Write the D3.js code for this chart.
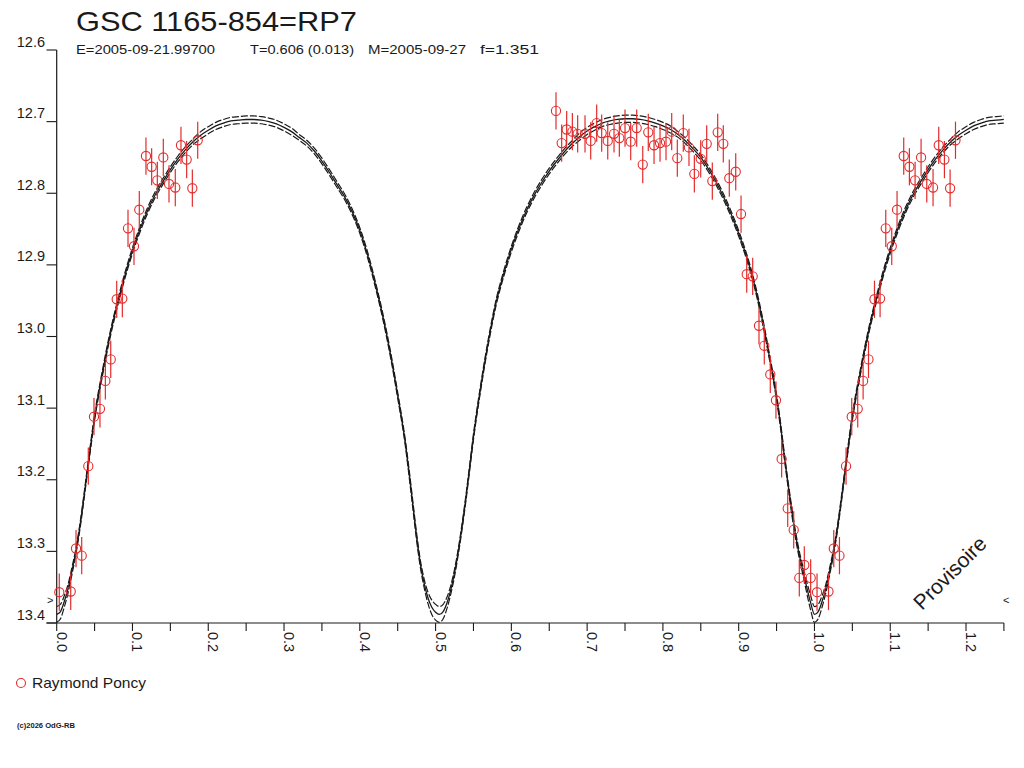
<!DOCTYPE html>
<html><head><meta charset="utf-8">
<script src="https://cdn.jsdelivr.net/npm/d3@7"></script>
<style>
html,body{margin:0;padding:0;background:#fff;}
svg{display:block;font-family:"Liberation Sans",Arial,sans-serif;}
</style>
</head><body>
<svg id="chart" width="1024" height="768"></svg>
<script>
// ---------- texts ----------
const titleText = "GSC 1165-854=RP7";
const subtitleParts = ["E=2005-09-21.99700", "T=0.606 (0.013)", "M=2005-09-27", "f=1.351"];
const observerName = "Raymond Poncy";
const watermarkText = "Provisoire";
const copyrightText = "(c)2026 OdG-RB";

// ---------- axes ----------
const xTickValues = [0,0.05,0.1,0.15,0.2,0.25,0.3,0.35,0.4,0.45,0.5,0.55,0.6,0.65,0.7,0.75,0.8,0.85,0.9,0.95,1.0,1.05,1.1,1.15,1.2,1.25];
const xLabelValues = [0,0.1,0.2,0.3,0.4,0.5,0.6,0.7,0.8,0.9,1.0,1.1,1.2];
const xLabelTexts = ["0.0","0.1","0.2","0.3","0.4","0.5","0.6","0.7","0.8","0.9","1.0","1.1","1.2"];
const yTickValues = [12.6,12.7,12.8,12.9,13.0,13.1,13.2,13.3,13.4];
const yTickTexts = ["12.6","12.7","12.8","12.9","13.0","13.1","13.2","13.3","13.4"];

// ---------- fitted light curve (phase 0..1), three curves ----------
const curvePhase = [0,0.005,0.01,0.015,0.02,0.025,0.03,0.035,0.04,0.045,0.05,0.06,0.07,0.08,0.09,0.10,0.11,0.12,0.13,0.14,0.15,0.16,0.17,0.18,0.19,0.20,0.21,0.22,0.23,0.24,0.25,0.26,0.27,0.28,0.29,0.30,0.31,0.32,0.33,0.34,0.35,0.36,0.37,0.38,0.39,0.40,0.41,0.42,0.43,0.44,0.45,0.46,0.465,0.47,0.475,0.48,0.485,0.49,0.495,0.50,0.505,0.51,0.515,0.52,0.525,0.53,0.535,0.54,0.545,0.55,0.56,0.57,0.58,0.59,0.60,0.61,0.62,0.63,0.64,0.65,0.66,0.67,0.68,0.69,0.70,0.71,0.72,0.73,0.74,0.75,0.76,0.77,0.78,0.79,0.80,0.81,0.82,0.83,0.84,0.85,0.86,0.87,0.88,0.89,0.90,0.91,0.92,0.93,0.94,0.95,0.955,0.96,0.965,0.97,0.975,0.98,0.985,0.99,0.995,1.0];
const curveMid = [13.388,13.384,13.370,13.352,13.328,13.302,13.270,13.232,13.191,13.151,13.113,13.053,13.000,12.955,12.915,12.880,12.850,12.824,12.802,12.784,12.767,12.752,12.739,12.728,12.719,12.712,12.706,12.702,12.699,12.698,12.697,12.697,12.698,12.700,12.703,12.708,12.714,12.722,12.730,12.741,12.755,12.771,12.788,12.805,12.826,12.852,12.885,12.925,12.970,13.022,13.082,13.148,13.190,13.235,13.280,13.318,13.345,13.365,13.378,13.385,13.388,13.384,13.372,13.354,13.330,13.300,13.265,13.226,13.183,
  13.140,13.068,13.005,12.952,12.912,12.878,12.849,12.824,12.803,12.785,12.769,12.755,12.742,12.731,12.721,12.713,12.707,12.702,12.699,12.697,12.696,
  12.696,12.697,12.699,12.702,12.706,12.711,12.718,12.727,12.738,12.750,
  12.766,12.784,12.805,12.829,12.856,12.887,12.924,12.970,13.025,13.085,13.122,13.165,13.205,13.243,13.277,13.305,13.328,13.351,13.372,13.388];
const curveUpper = [13.377,13.374,13.362,13.346,13.323,13.298,13.266,13.228,13.187,13.147,13.109,13.049,12.996,12.951,12.911,12.876,12.846,12.820,12.798,12.780,12.763,12.748,12.735,12.724,12.714,12.707,12.701,12.697,12.694,12.693,12.692,12.692,12.693,12.695,12.698,12.703,12.709,12.718,12.726,12.737,12.751,12.767,12.784,12.801,12.822,12.848,12.881,12.921,12.966,13.018,13.078,13.144,13.185,13.230,13.275,13.313,13.339,13.357,13.368,13.374,13.377,13.374,13.364,13.348,13.325,13.296,13.261,13.222,13.179,
  13.136,13.064,13.001,12.948,12.908,12.874,12.845,12.820,12.799,12.781,12.765,12.751,12.738,12.727,12.716,12.708,12.702,12.697,12.694,12.692,12.691,
  12.691,12.692,12.694,12.697,12.701,12.706,12.714,12.723,12.734,12.746,
  12.762,12.780,12.801,12.825,12.852,12.883,12.920,12.966,13.021,13.081,13.118,13.161,13.201,13.238,13.272,13.300,13.322,13.343,13.362,13.377];
const curveLower = [13.399,13.394,13.378,13.358,13.333,13.306,13.274,13.236,13.195,13.155,13.117,13.057,13.004,12.959,12.919,12.884,12.854,12.828,12.806,12.788,12.771,12.756,12.743,12.732,12.724,12.717,12.711,12.707,12.704,12.703,12.702,12.702,12.703,12.705,12.708,12.713,12.719,12.726,12.734,12.745,12.759,12.775,12.792,12.809,12.830,12.856,12.889,12.929,12.974,13.026,13.086,13.152,13.195,13.240,13.285,13.323,13.351,13.373,13.388,13.396,13.399,13.394,13.380,13.360,13.335,13.304,13.269,13.230,13.187,
  13.144,13.072,13.009,12.956,12.916,12.882,12.853,12.828,12.807,12.789,12.773,12.759,12.746,12.735,12.726,12.718,12.712,12.707,12.704,12.702,12.701,
  12.701,12.702,12.704,12.707,12.711,12.716,12.722,12.731,12.742,12.754,
  12.770,12.788,12.809,12.833,12.860,12.891,12.928,12.974,13.029,13.089,13.126,13.169,13.209,13.248,13.282,13.310,13.334,13.359,13.382,13.399];

// ---------- observations (Raymond Poncy), phase in [0,1) ----------
const obsPhase = [0.0034,0.0185,0.0255,0.0330,0.0417,0.0492,0.0571,0.0642,0.0713,0.0792,0.0866,0.0941,0.1020,0.1090,0.1178,0.1253,0.1328,0.1407,0.1482,0.1565,0.1640,0.1715,0.1790,0.1861,
  0.6589,0.6664,0.6730,0.6805,0.6875,0.6972,0.7047,0.7126,0.7192,0.7272,0.7355,0.7425,0.7500,0.7575,0.7654,0.7734,0.7807,0.7883,0.7962,0.8041,0.8116,0.8190,0.8269,0.8344,0.8415,0.8499,0.8578,0.8652,0.8723,0.8797,0.8876,0.8961,0.9031,
  0.9106,0.9185,0.9268,0.9338,0.9417,0.9492,0.9567,0.9647,0.9726,0.9800,0.9866,0.9950];
const obsMag = [13.357,13.356,13.296,13.306,13.181,13.112,13.101,13.062,13.032,12.948,12.947,12.849,12.874,12.823,12.748,12.763,12.782,12.750,12.787,12.792,12.733,12.753,12.793,12.726,
  12.685,12.730,12.711,12.714,12.717,12.717,12.727,12.702,12.716,12.727,12.717,12.723,12.709,12.728,12.709,12.760,12.715,12.733,12.730,12.728,12.714,12.751,12.716,12.736,12.773,12.752,12.731,12.783,12.715,12.731,12.779,12.770,12.829,
  12.913,12.916,12.985,13.013,13.053,13.089,13.171,13.240,13.270,13.337,13.319,13.337];
const obsErr = [0.026,0.026,0.026,0.026,0.026,0.026,0.026,0.026,0.026,0.026,0.026,0.026,0.026,0.026,0.026,0.026,0.026,0.026,0.026,0.026,0.026,0.026,0.026,0.026,
  0.026,0.026,0.026,0.026,0.026,0.026,0.026,0.026,0.026,0.026,0.026,0.026,0.026,0.026,0.026,0.026,0.026,0.026,0.026,0.026,0.026,0.026,0.026,0.026,0.026,0.026,0.026,0.026,0.026,0.026,0.026,0.026,0.026,
  0.026,0.026,0.026,0.026,0.026,0.026,0.026,0.026,0.026,0.026,0.026,0.026];

// ---------- drawing ----------
const svg = d3.select("#chart");
svg.append("rect").attr("width",1024).attr("height",768).attr("fill","#fff");

const x = d3.scaleLinear().domain([0, 1.25]).range([56.7, 1003.9]);
const y = d3.scaleLinear().domain([12.6, 13.4]).range([50, 623]);
const ink = "#1a1a1a";
const red = "#e42b2b";

svg.append("defs").append("clipPath").attr("id","plotclip")
  .append("rect").attr("x", x(0)).attr("y", y(12.6) - 10).attr("width", x(1.25) - x(0)).attr("height", y(13.4) - y(12.6) + 10);

// title + subtitle
svg.append("text").attr("x",76).attr("y",30.5).attr("font-size",28).attr("fill",ink)
  .attr("textLength",281).attr("lengthAdjust","spacingAndGlyphs").text(titleText);
const subX = [76, 250, 368, 480];
const subW = [139, 104, 98, 59];
subtitleParts.forEach((t,i) => {
  svg.append("text").attr("x",subX[i]).attr("y",53.5).attr("font-size",12.5).attr("fill",ink)
    .attr("textLength",subW[i]).attr("lengthAdjust","spacingAndGlyphs").text(t);
});

// axes lines
svg.append("line").attr("x1",x(0)).attr("x2",x(0)).attr("y1",y(12.6)).attr("y2",y(13.4))
  .attr("stroke",ink).attr("stroke-width",1.2);
svg.append("line").attr("x1",46.5).attr("x2",x(1.25)).attr("y1",y(13.4)).attr("y2",y(13.4))
  .attr("stroke",ink).attr("stroke-width",1.2);

// y ticks + labels
const yg = svg.append("g");
yTickValues.forEach((v,i) => {
  yg.append("line").attr("x1",46.5).attr("x2",x(0)).attr("y1",y(v)).attr("y2",y(v))
    .attr("stroke",ink).attr("stroke-width",1.1);
  yg.append("text").attr("x",45).attr("y",y(v) - 3.5).attr("text-anchor","end")
    .attr("font-size",14.5).attr("fill",ink).text(yTickTexts[i]);
});

// x ticks + labels
const xg = svg.append("g");
xTickValues.forEach(v => {
  xg.append("line").attr("x1",x(v)).attr("x2",x(v)).attr("y1",y(13.4)).attr("y2",y(13.4) + 8)
    .attr("stroke",ink).attr("stroke-width",1.1);
});
xLabelValues.forEach((v,i) => {
  xg.append("text").attr("transform",`translate(${x(v)},632) rotate(90)`)
    .attr("font-size",14.5).attr("fill",ink).text(xLabelTexts[i]);
});

// light curves (repeated for phases 1..1.25)
function curvePoints(vals){
  const pts = curvePhase.map((p,i) => [p, vals[i]]);
  curvePhase.forEach((p,i) => { if (p > 0 && p + 1 <= 1.25) pts.push([p + 1, vals[i]]); });
  return pts;
}
const line = d3.line().x(d => x(d[0])).y(d => y(d[1])).curve(d3.curveMonotoneX);
const cg = svg.append("g").attr("clip-path","url(#plotclip)");
cg.append("path").attr("d", line(curvePoints(curveUpper))).attr("fill","none")
  .attr("stroke",ink).attr("stroke-width",1.2).attr("stroke-dasharray","7,2");
cg.append("path").attr("d", line(curvePoints(curveLower))).attr("fill","none")
  .attr("stroke",ink).attr("stroke-width",1.2).attr("stroke-dasharray","7,2");
cg.append("path").attr("d", line(curvePoints(curveMid))).attr("fill","none")
  .attr("stroke",ink).attr("stroke-width",1.3);

// observations (also shown at phase + 1 when inside the axis)
const obs = [];
obsPhase.forEach((p,i) => {
  obs.push({p: p, m: obsMag[i], e: obsErr[i]});
  if (p + 1 <= 1.25) obs.push({p: p + 1, m: obsMag[i], e: obsErr[i]});
});
const og = svg.append("g");
og.selectAll("line.err").data(obs).join("line").attr("class","err")
  .attr("x1", d => x(d.p)).attr("x2", d => x(d.p))
  .attr("y1", d => y(d.m - d.e)).attr("y2", d => y(d.m + d.e))
  .attr("stroke", red).attr("stroke-width", 1.2);
og.selectAll("circle").data(obs).join("circle")
  .attr("cx", d => x(d.p)).attr("cy", d => y(d.m)).attr("r", 4.6)
  .attr("fill","none").attr("stroke", red).attr("stroke-width", 1.1);

// edge markers
svg.append("text").attr("x",47).attr("y",604).attr("font-size",11).attr("fill",ink).text(">");
svg.append("text").attr("x",1003).attr("y",604).attr("font-size",11).attr("fill",ink).text("<");

// watermark
svg.append("text").attr("transform","translate(922,611) rotate(-45)")
  .attr("font-size",21).attr("fill",ink).text(watermarkText);

// legend
svg.append("circle").attr("cx",21).attr("cy",683).attr("r",4.5)
  .attr("fill","none").attr("stroke",red).attr("stroke-width",1.1);
svg.append("text").attr("x",32).attr("y",688).attr("font-size",15).attr("fill",ink)
  .attr("textLength",114).attr("lengthAdjust","spacingAndGlyphs").text(observerName);

// copyright
svg.append("text").attr("x",17).attr("y",728).attr("font-size",7.5).attr("font-weight","bold").attr("fill",ink)
  .attr("textLength",58).attr("lengthAdjust","spacingAndGlyphs").text(copyrightText);
</script>
</body></html>
